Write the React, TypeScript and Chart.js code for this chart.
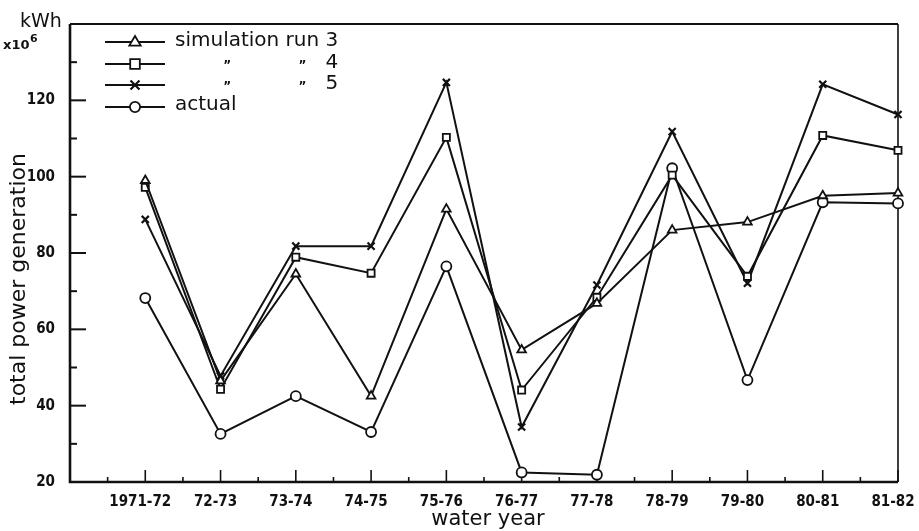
import React, { useEffect, useRef } from "react";
import { Chart, registerables } from "chart.js";

Chart.register(...registerables);

const categories = ["1971-72", "72-73", "73-74", "74-75", "75-76", "76-77", "77-78", "78-79", "79-80", "80-81", "81-82"];
const run3 = [99.0, 46.5, 74.5, 42.5, 91.5, 54.6, 66.8, 86.0, 88.1, 95.0, 95.7];
const run4 = [97.2, 44.3, 78.9, 74.7, 110.3, 44.1, 68.4, 100.4, 73.9, 110.8, 106.9];
const run5 = [88.8, 47.8, 81.8, 81.8, 124.7, 34.4, 71.6, 111.8, 72.1, 124.2, 116.3];
const actual = [68.2, 32.6, 42.5, 33.1, 76.5, 22.5, 21.9, 102.2, 46.7, 93.3, 93.0];
const yMajorTicks = [20, 40, 60, 80, 100, 120];

const INK = "#111";
const FONT = "'DejaVu Sans', sans-serif";
const COND = "'DejaVu Sans Condensed', 'DejaVu Sans', sans-serif";

function drawMarker(ctx: CanvasRenderingContext2D, style: string, x: number, y: number, r: number) {
  ctx.save();
  ctx.lineWidth = 1.8;
  ctx.strokeStyle = INK;
  ctx.fillStyle = "#fff";
  ctx.beginPath();
  if (style === "triangle") {
    ctx.moveTo(x, y - r);
    ctx.lineTo(x + r * 0.95, y + r * 0.6);
    ctx.lineTo(x - r * 0.95, y + r * 0.6);
    ctx.closePath();
    ctx.fill();
    ctx.stroke();
  } else if (style === "rect") {
    const s = r * 0.8;
    ctx.rect(x - s, y - s, 2 * s, 2 * s);
    ctx.fill();
    ctx.stroke();
  } else if (style === "crossRot") {
    const s = r * 0.75;
    ctx.lineWidth = 2.2;
    ctx.moveTo(x - s, y - s);
    ctx.lineTo(x + s, y + s);
    ctx.moveTo(x + s, y - s);
    ctx.lineTo(x - s, y + s);
    ctx.stroke();
  } else {
    ctx.arc(x, y, r * 0.85, 0, Math.PI * 2);
    ctx.fill();
    ctx.stroke();
  }
  ctx.restore();
}

const decorPlugin = {
  id: "decor",
  beforeDatasetsDraw(chart: any) {
    const { ctx, chartArea } = chart;
    const xs = chart.scales.x;
    const ys = chart.scales.y;
    const { left, right, top, bottom } = chartArea;
    ctx.save();
    ctx.strokeStyle = INK;
    // frame
    ctx.lineWidth = 2.6;
    ctx.beginPath();
    ctx.moveTo(left, top);
    ctx.lineTo(left, bottom);
    ctx.lineTo(right, bottom);
    ctx.stroke();
    ctx.lineWidth = 2;
    ctx.beginPath();
    ctx.moveTo(left, top);
    ctx.lineTo(right, top);
    ctx.stroke();
    ctx.lineWidth = 1.6;
    ctx.beginPath();
    ctx.moveTo(right, top);
    ctx.lineTo(right, bottom);
    ctx.stroke();
    // inward ticks on y
    ctx.lineWidth = 2;
    for (let v = 30; v <= 130; v += 10) {
      const py = ys.getPixelForValue(v);
      const len = v % 20 === 0 ? 16 : 7;
      ctx.beginPath();
      ctx.moveTo(left, py);
      ctx.lineTo(left + len, py);
      ctx.stroke();
    }
    // inward ticks on x
    ctx.lineWidth = 1.6;
    for (let v = -0.5; v <= 10; v += 0.5) {
      const px = xs.getPixelForValue(v);
      const len = Number.isInteger(v) ? 12 : 5;
      ctx.beginPath();
      ctx.moveTo(px, bottom);
      ctx.lineTo(px, bottom - len);
      ctx.stroke();
    }
    ctx.restore();
  },
  afterDraw(chart: any) {
    const { ctx, chartArea } = chart;
    ctx.save();
    ctx.fillStyle = INK;
    // unit labels
    ctx.textBaseline = "middle";
    ctx.textAlign = "left";
    ctx.font = `19px ${FONT}`;
    ctx.fillText("kWh", 20, 22);
    ctx.font = `bold 13px ${FONT}`;
    ctx.fillText("x10", 3, 46);
    ctx.font = `bold 11px ${FONT}`;
    ctx.fillText("6", 30, 39);
    // y title
    ctx.save();
    ctx.translate(19, 279);
    ctx.rotate(-Math.PI / 2);
    ctx.textAlign = "center";
    ctx.font = `22px ${FONT}`;
    ctx.fillText("total power generation", 0, 0);
    ctx.restore();
    // x title
    ctx.textAlign = "center";
    ctx.font = `21px ${FONT}`;
    ctx.fillText("water year", (chartArea.left + chartArea.right) / 2 + 4, 520);
    // legend
    const rows = [
      { style: "triangle", y: 42 },
      { style: "rect", y: 64 },
      { style: "crossRot", y: 85 },
      { style: "circle", y: 107 },
    ];
    const lx0 = 105, lx1 = 165, mx = 135, tx = 175;
    rows.forEach((r) => {
      ctx.strokeStyle = INK;
      ctx.lineWidth = 2;
      ctx.beginPath();
      ctx.moveTo(lx0, r.y);
      ctx.lineTo(lx1, r.y);
      ctx.stroke();
      drawMarker(ctx, r.style, mx, r.y, 6);
    });
    ctx.font = `20px ${FONT}`;
    ctx.textAlign = "left";
    ctx.fillText("simulation run 3", tx, 41);
    ctx.fillText("actual", tx, 105);
    const wSim = ctx.measureText("simulation").width;
    const wPre = ctx.measureText("simulation ").width;
    const wRun = ctx.measureText("run").width;
    const wAll = ctx.measureText("simulation run ").width;
    const d1 = tx + wSim / 2;
    const d2 = tx + wPre + wRun / 2;
    [["4", 63], ["5", 84]].forEach(([digit, y]: any) => {
      ctx.font = `bold 12px ${FONT}`;
      ctx.textAlign = "center";
      ctx.fillText("\u201D", d1, y + 3);
      ctx.fillText("\u201D", d2, y + 3);
      ctx.font = `20px ${FONT}`;
      ctx.textAlign = "left";
      ctx.fillText(digit, tx + wAll, y);
    });
    ctx.restore();
  },
};

function makeDataset(label: string, values: number[], style: string) {
  return {
    label,
    data: values.map((v, i) => ({ x: i, y: v })),
    borderColor: INK,
    borderWidth: 2,
    backgroundColor: "#fff",
    pointStyle: style,
    pointRadius: 5,
    pointBorderWidth: style === "crossRot" ? 2.2 : 1.8,
    pointBackgroundColor: "#fff",
    pointBorderColor: INK,
    tension: 0,
    clip: false,
  };
}

export default function App() {
  const ref = useRef<HTMLCanvasElement>(null);
  useEffect(() => {
    document.body.style.margin = "0";
    const chart = new Chart(ref.current!, {
      type: "line",
      data: {
        datasets: [
          makeDataset("simulation run 3", run3, "triangle"),
          makeDataset("simulation run 4", run4, "rect"),
          makeDataset("simulation run 5", run5, "crossRot"),
          makeDataset("actual", actual, "circle"),
        ],
      },
      options: {
        animation: false,
        responsive: false,
        devicePixelRatio: 1,
        layout: { padding: { top: 24, right: 21, left: 0, bottom: 0 } },
        plugins: { legend: { display: false }, tooltip: { enabled: false } },
        scales: {
          x: {
            type: "linear",
            min: -1,
            max: 10,
            grid: { display: false, drawTicks: false },
            border: { display: false },
            afterBuildTicks: (scale: any) => {
              scale.ticks = categories.map((_, i) => ({ value: i }));
            },
            afterFit: (scale: any) => {
              scale.height = 49;
              scale.paddingLeft = 0;
              scale.paddingRight = 0;
            },
            ticks: {
              color: INK,
              padding: 11,
              labelOffset: -5,
              maxRotation: 0,
              autoSkip: false,
              font: { family: COND, size: 15, weight: "bold" },
              callback: (v: any) => categories[v] ?? "",
            },
          },
          y: {
            min: 20,
            max: 140,
            grid: { display: false, drawTicks: false },
            border: { display: false },
            afterBuildTicks: (scale: any) => {
              scale.ticks = yMajorTicks.map((v) => ({ value: v }));
            },
            afterFit: (scale: any) => {
              scale.width = 70;
              scale.paddingTop = 0;
              scale.paddingBottom = 0;
            },
            ticks: {
              color: INK,
              padding: 15,
              font: { family: COND, size: 15, weight: "bold" },
              callback: (v: any) => String(v),
            },
          },
        },
      },
      plugins: [decorPlugin],
    } as any);
    return () => chart.destroy();
  }, []);
  return (
    <div style={{ width: 919, height: 531 }}>
      <canvas ref={ref} width={919} height={531} style={{ display: "block" }} />
    </div>
  );
}
